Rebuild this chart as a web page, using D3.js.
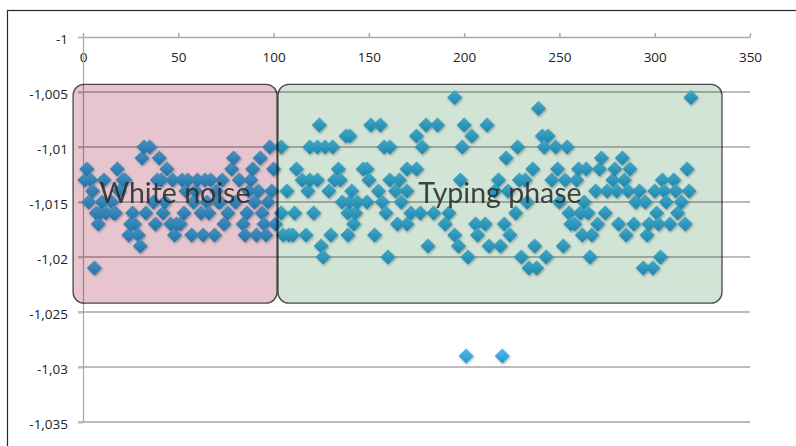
<!DOCTYPE html>
<html>
<head>
<meta charset="utf-8">
<script src="https://cdn.jsdelivr.net/npm/d3@7"></script>
<style>
  html, body { margin: 0; padding: 0; background: #fff; }
  svg { display: block; }
</style>
</head>
<body>
<svg id="chart" width="796" height="446"></svg>
<script>
// Axis ticks
const xTicks = [0, 50, 100, 150, 200, 250, 300, 350];
const yTicks = [-1, -1.005, -1.01, -1.015, -1.02, -1.025, -1.03, -1.035];

// Samples recorded while the sensor was idle (white noise)
const noiseX = [1, 2, 3, 4, 5, 6, 7, 8, 9, 10, 11, 12, 15, 16, 17, 18, 19, 21, 22, 24,
  25, 26, 27, 29, 30, 31, 32, 33, 35, 37, 38, 39, 40, 41, 42, 43, 44, 46, 47, 48,
  49, 51, 52, 53, 54, 55, 57, 58, 59, 60, 62, 63, 64, 65, 66, 67, 69, 70, 71, 72,
  73, 74, 76, 78, 79, 80, 82, 84, 85, 86, 87, 88, 89, 90, 91, 92, 93, 94, 95, 96,
  97, 98, 99, 100, 101];
const noiseY = [-1.013, -1.012, -1.015, -1.013, -1.014, -1.021, -1.016, -1.017, -1.016, -1.015,
  -1.013, -1.016, -1.015, -1.016, -1.016, -1.012, -1.014, -1.013, -1.013, -1.018,
  -1.017, -1.016, -1.017, -1.018, -1.019, -1.011, -1.010, -1.016, -1.010, -1.015,
  -1.017, -1.013, -1.011, -1.013, -1.016, -1.015, -1.012, -1.017, -1.013, -1.018,
  -1.017, -1.017, -1.013, -1.016, -1.014, -1.013, -1.018, -1.015, -1.014, -1.013,
  -1.016, -1.018, -1.013, -1.015, -1.016, -1.013, -1.018, -1.014, -1.015, -1.015,
  -1.013, -1.017, -1.016, -1.012, -1.011, -1.015, -1.013, -1.017, -1.018, -1.016,
  -1.014, -1.013, -1.012, -1.015, -1.018, -1.014, -1.011, -1.016, -1.017, -1.018,
  -1.015, -1.010, -1.014, -1.012, -1.017];

// Samples recorded while typing
const typingX = [104, 104, 105, 107, 108, 110, 111, 112, 115, 117, 118, 119, 119, 121, 123, 123, 124, 125, 126, 127,
  129, 130, 131, 132, 134, 135, 136, 138, 139, 139, 140, 140, 141, 142, 143, 144, 147, 149, 149, 150,
  151, 153, 155, 156, 157, 158, 159, 160, 161, 161, 164, 165, 166, 167, 170, 170, 170, 172, 175, 175,
  177, 178, 180, 181, 184, 186, 190, 192, 195, 195, 197, 198, 199, 200, 201, 202, 204, 206, 207, 211,
  212, 213, 216, 218, 219, 220, 221, 222, 223, 224, 227, 228, 229, 230, 232, 233, 234, 236, 237, 238,
  239, 241, 242, 243, 244, 246, 248, 249, 250, 252, 253, 254, 255, 256, 258, 259, 260, 261, 262, 263,
  264, 265, 266, 267, 269, 270, 271, 272, 274, 275, 278, 279, 280, 281, 283, 284, 285, 286, 287, 289,
  290, 292, 294, 295, 296, 297, 299, 300, 301, 302, 303, 304, 305, 306, 308, 310, 311, 312, 314, 316,
  317, 318, 319];
const typingY = [-1.010, -1.016, -1.018, -1.014, -1.018, -1.018, -1.016, -1.012, -1.013, -1.018,
  -1.014, -1.010, -1.013, -1.016, -1.010, -1.013, -1.008, -1.019, -1.020, -1.010,
  -1.014, -1.018, -1.010, -1.013, -1.012, -1.013, -1.015, -1.009, -1.016, -1.018,
  -1.009, -1.015, -1.014, -1.017, -1.016, -1.015, -1.012, -1.012, -1.015, -1.013,
  -1.008, -1.018, -1.014, -1.008, -1.015, -1.010, -1.016, -1.020, -1.010, -1.013,
  -1.014, -1.017, -1.013, -1.015, -1.012, -1.014, -1.017, -1.016, -1.009, -1.012,
  -1.016, -1.010, -1.008, -1.019, -1.016, -1.008, -1.017, -1.016, -1.0055, -1.018,
  -1.019, -1.013, -1.010, -1.008, -1.029, -1.020, -1.009, -1.017, -1.018, -1.017,
  -1.008, -1.019, -1.014, -1.013, -1.019, -1.029, -1.017, -1.011, -1.014, -1.018,
  -1.016, -1.010, -1.013, -1.020, -1.013, -1.015, -1.021, -1.012, -1.019, -1.021,
  -1.0065, -1.009, -1.010, -1.020, -1.009, -1.013, -1.010, -1.012, -1.015, -1.019,
  -1.013, -1.010, -1.016, -1.017, -1.017, -1.013, -1.012, -1.016, -1.018, -1.015,
  -1.012, -1.016, -1.020, -1.018, -1.014, -1.017, -1.012, -1.011, -1.016, -1.014,
  -1.013, -1.012, -1.014, -1.017, -1.011, -1.013, -1.018, -1.014, -1.012, -1.017,
  -1.015, -1.014, -1.021, -1.015, -1.018, -1.017, -1.021, -1.014, -1.016, -1.017,
  -1.020, -1.013, -1.014, -1.015, -1.017, -1.013, -1.014, -1.016, -1.015, -1.017,
  -1.012, -1.014, -1.0055];

// Annotated phases (extent in data units)
const phaseLabels = ["White noise", "Typing phase"];
const phaseStart = [-5.2, 102.3];
const phaseEnd = [101.8, 335.3];
const phaseTop = [-1.0043, -1.0043];
const phaseBottom = [-1.0242, -1.0242];
const phaseFill = ["#e7c5cf", "#d1e4d6"];

const svg = d3.select("#chart");

// Outer frame
svg.append("rect")
  .attr("x", 7.5).attr("y", 10.5)
  .attr("width", 900).attr("height", 600)
  .attr("fill", "none").attr("stroke", "#2b2b2b").attr("stroke-width", 1.2);

const x = d3.scaleLinear().domain([0, 350]).range([83, 750]);
const y = d3.scaleLinear().domain([-1, -1.035]).range([37, 422]);

const locale = d3.formatLocale({ decimal: ",", thousands: ".", grouping: [3], currency: ["", ""], minus: "-" });
const fmt = locale.format("~g");

// Horizontal gridlines
svg.append("g")
  .selectAll("line")
  .data(yTicks.slice(1))
  .join("line")
  .attr("x1", 78).attr("x2", x(350))
  .attr("y1", d => y(d)).attr("y2", d => y(d))
  .attr("stroke", "#bcbcbc").attr("stroke-width", 2);

const labelFont = "'Open Sans', sans-serif";

// X axis across the top of the plot, labels underneath
const xAxis = svg.append("g")
  .attr("transform", `translate(0,${y(-1)})`)
  .call(d3.axisBottom(x).tickValues(xTicks).tickSize(-4).tickSizeOuter(0).tickPadding(15).tickFormat(d3.format("d")));
xAxis.select(".domain").attr("stroke", "#a9a9a9").attr("stroke-width", 1.5);
xAxis.selectAll(".tick line").attr("stroke", "#a9a9a9").attr("stroke-width", 1.5);
xAxis.selectAll("text")
  .attr("font-family", labelFont).attr("font-size", 13.5).attr("fill", "#222");

// Y axis
const yAxis = svg.append("g")
  .attr("transform", `translate(${x(0)},0)`)
  .call(d3.axisLeft(y).tickValues(yTicks).tickSize(5).tickSizeOuter(0).tickPadding(10).tickFormat(fmt));
yAxis.select(".domain").attr("stroke", "#a9a9a9").attr("stroke-width", 1.2);
yAxis.selectAll(".tick line").attr("stroke", "#bcbcbc").attr("stroke-width", 2);
yAxis.selectAll("text")
  .attr("font-family", labelFont).attr("font-size", 13.5).attr("fill", "#222")
  .attr("transform", "translate(0,2)");

// Marker styling
const defs = svg.append("defs");
const grad = defs.append("linearGradient").attr("id", "dot").attr("x1", 0).attr("y1", 0).attr("x2", 0).attr("y2", 1);
grad.append("stop").attr("offset", "0%").attr("stop-color", "#50bdec");
grad.append("stop").attr("offset", "100%").attr("stop-color", "#2495d0");
const shadow = defs.append("filter").attr("id", "shade").attr("x", "-50%").attr("y", "-50%").attr("width", "200%").attr("height", "200%");
shadow.append("feDropShadow").attr("dx", 0.8).attr("dy", 1.2).attr("stdDeviation", 0.9)
  .attr("flood-color", "#000").attr("flood-opacity", 0.35);

const samples = noiseX.map((v, i) => ({ x: v, y: noiseY[i] }))
  .concat(typingX.map((v, i) => ({ x: v, y: typingY[i] })));

const half = 7.5;
svg.append("g")
  .attr("filter", "url(#shade)")
  .selectAll("path")
  .data(samples)
  .join("path")
  .attr("transform", d => `translate(${x(d.x)},${y(d.y)})`)
  .attr("d", `M0,${-half}L${half},0L0,${half}L${-half},0Z`)
  .attr("fill", "url(#dot)");

// Phase boxes tint everything beneath them
const phases = phaseLabels.map((label, i) => ({
  label, x0: phaseStart[i], x1: phaseEnd[i], y0: phaseTop[i], y1: phaseBottom[i], fill: phaseFill[i]
}));

svg.append("g")
  .selectAll("rect")
  .data(phases)
  .join("rect")
  .attr("x", d => x(d.x0)).attr("y", d => y(d.y0))
  .attr("width", d => x(d.x1) - x(d.x0)).attr("height", d => y(d.y1) - y(d.y0))
  .attr("rx", 11).attr("ry", 11)
  .attr("fill", d => d.fill)
  .style("mix-blend-mode", "multiply")
  .attr("stroke", "#4a4a4a").attr("stroke-width", 1.3);

svg.append("g")
  .selectAll("text")
  .data(phases)
  .join("text")
  .attr("x", d => (x(d.x0) + x(d.x1)) / 2)
  .attr("y", 203)
  .attr("text-anchor", "middle")
  .attr("font-family", "Lato, 'Open Sans', sans-serif")
  .attr("font-size", 28.5)
  .attr("fill", "#2a2a2a")
  .attr("fill-opacity", 0.88)
  .text(d => d.label);
</script>
</body>
</html>
